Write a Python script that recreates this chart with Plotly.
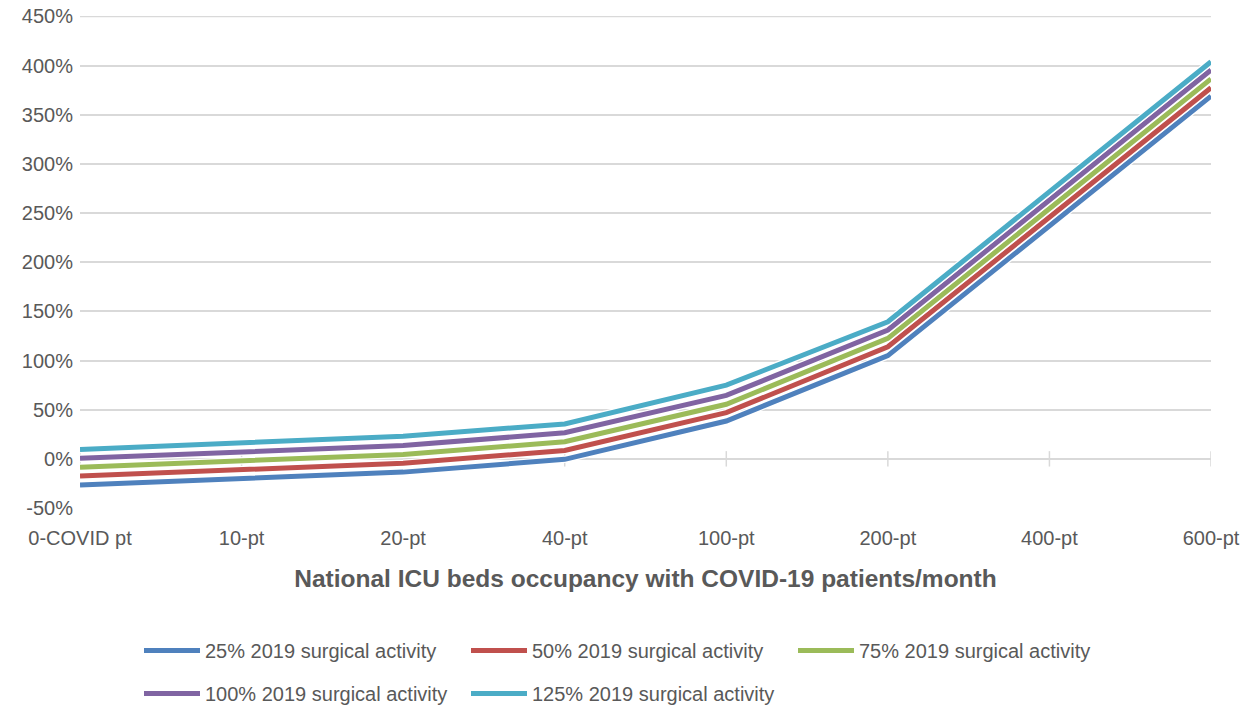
import plotly.graph_objects as go

categories = ["0-COVID pt", "10-pt", "20-pt", "40-pt", "100-pt", "200-pt", "400-pt", "600-pt"]
act_25 = [-26.5, -19.5, -13.5, -0.5, 38.5, 105, 237, 369]
act_50 = [-17.5, -11, -4.5, 8.5, 47, 114, 246, 377.5]
act_75 = [-8.5, -2, 4.5, 17.5, 55.5, 122.5, 254, 386.5]
act_100 = [0.5, 7, 13.5, 26.5, 64.5, 131, 263, 395.5]
act_125 = [9.5, 16, 23, 35.5, 75, 139.5, 272, 404]
series_names = ["25% 2019 surgical activity", "50% 2019 surgical activity",
                "75% 2019 surgical activity", "100% 2019 surgical activity",
                "125% 2019 surgical activity"]
y_ticks = list(range(-50, 451, 50))
y_tick_text = [f"{v}%" for v in y_ticks]

series = [act_25, act_50, act_75, act_100, act_125]
colors = ["#4f81bd", "#c0504d", "#9bbb59", "#8064a2", "#4bacc6"]
legends = ["legend", "legend", "legend", "legend2", "legend2"]

FONT = "Liberation Sans, Arial"
TXT = "#595959"
GRID = "#d9d9d9"

# page body has an 8px margin, so the figure is 8px smaller than the window
W, H = 1249, 704

fig = go.Figure()

# tick marks on the category axis crossing at 0
fig.add_trace(go.Scatter(
    x=categories, y=[0] * len(categories), mode="markers",
    marker=dict(symbol="line-ns", size=11, line=dict(color=GRID, width=1.5)),
    showlegend=False, hoverinfo="skip"))

for name, vals, col, lg in zip(series_names, series, colors, legends):
    fig.add_trace(go.Scatter(x=categories, y=vals, mode="lines",
                             line=dict(color="white", width=7.5),
                             showlegend=False, hoverinfo="skip"))
    fig.add_trace(go.Scatter(x=categories, y=vals, mode="lines", name=name,
                             line=dict(color=col, width=5), legend=lg))

# top gridline (drawn explicitly so it is not dropped at the plot edge)
fig.add_shape(type="line", xref="paper", yref="y", x0=0, x1=1,
              y0=max(y_ticks), y1=max(y_ticks),
              line=dict(color=GRID, width=1.5), layer="below")

leg_common = dict(orientation="h", xref="container", yref="container",
                  xanchor="left", yanchor="top",
                  entrywidth=256, entrywidthmode="pixels", itemwidth=56,
                  font=dict(family=FONT, size=20, color=TXT), bgcolor="rgba(0,0,0,0)")

fig.update_layout(
    width=W, height=H,
    paper_bgcolor="white", plot_bgcolor="white",
    margin=dict(l=72, r=46, t=8, b=204, autoexpand=False),
    font=dict(family=FONT, size=20, color=TXT),
    legend=dict(x=131 / W, y=1 - 623 / H, **leg_common),
    legend2=dict(x=131 / W, y=1 - 666 / H, **leg_common),
    xaxis=dict(type="category", range=[0, len(categories) - 1], automargin=False,
               showgrid=False, showline=False, zeroline=False, ticks="",
               ticklabeloverflow="allow",
               tickfont=dict(family=FONT, size=20, color=TXT), ticklabelstandoff=16,
               title=dict(text="<b>National ICU beds occupancy with COVID-19 patients/month</b>",
                          font=dict(family=FONT, size=24.5, color=TXT), standoff=21)),
    yaxis=dict(range=[-50, 450.5], tickvals=y_ticks, ticktext=y_tick_text, automargin=False,
               showgrid=True, gridcolor=GRID, gridwidth=1.5,
               zeroline=True, zerolinecolor=GRID, zerolinewidth=1.5,
               showline=False, ticks="", ticklabelstandoff=6,
               ticklabeloverflow="allow",
               tickfont=dict(family=FONT, size=20, color=TXT)),
)

fig.write_html("out.html")
